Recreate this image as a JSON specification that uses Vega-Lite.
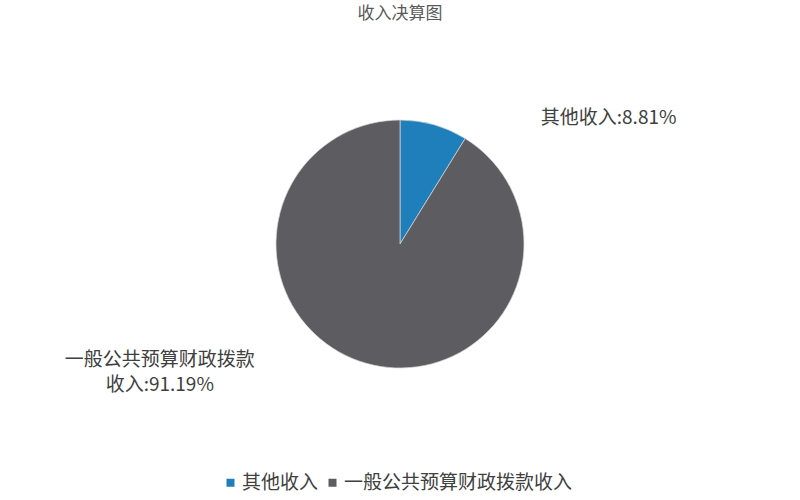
{
  "$schema": "https://vega.github.io/schema/vega-lite/v6.json",
  "autosize": {"type": "none"},
  "width": 800,
  "height": 432,
  "padding": {"left": 0, "right": 0, "top": 28, "bottom": 40},
  "background": "white",
  "title": {
    "text": "收入决算图",
    "font": "Noto Sans CJK SC",
    "fontSize": 17,
    "fontWeight": "normal",
    "color": "#595959",
    "anchor": "middle",
    "offset": 5
  },
  "data": {
    "values": [
      {"name": "其他收入", "value": 8.81, "idx": 1, "label": "其他收入:8.81%"},
      {"name": "一般公共预算财政拨款收入", "value": 91.19, "idx": 2, "label": "一般公共预算财政拨款\n收入:91.19%"}
    ]
  },
  "encoding": {
    "theta": {"field": "value", "type": "quantitative", "stack": true},
    "order": {"field": "idx", "type": "quantitative"}
  },
  "layer": [
    {
      "mark": {"type": "arc", "outerRadius": 124, "stroke": "#d9d9d9", "strokeWidth": 0.7},
      "encoding": {
        "color": {
          "field": "name",
          "type": "nominal",
          "scale": {"domain": ["其他收入", "一般公共预算财政拨款收入"], "range": ["#1f7fba", "#5d5c61"]},
          "legend": {
            "title": null,
            "orient": "none",
            "legendX": 221,
            "legendY": 445,
            "direction": "horizontal",
            "padding": 0,
            "symbolType": "square",
            "symbolSize": 64,
            "symbolStrokeWidth": 0,
            "labelFont": "Noto Sans CJK SC",
            "labelFontSize": 19,
            "labelColor": "#404040",
            "labelLimit": 400,
            "columnPadding": 4,
            "labelOffset": 2
          }
        }
      }
    },
    {
      "transform": [{"filter": "datum.idx == 1"}],
      "mark": {"type": "text", "radius": 131, "align": "left", "baseline": "middle", "dx": 105, "font": "Noto Sans CJK SC", "fontSize": 19, "color": "#404040"},
      "encoding": {"text": {"field": "label"}}
    },
    {
      "transform": [{"filter": "datum.idx == 2"}],
      "mark": {"type": "text", "radius": 131, "align": "center", "baseline": "middle", "dx": -276, "dy": -10, "lineBreak": "\n", "lineHeight": 25, "font": "Noto Sans CJK SC", "fontSize": 19, "color": "#404040"},
      "encoding": {"text": {"field": "label"}}
    }
  ],
  "config": {"view": {"stroke": null}}
}
